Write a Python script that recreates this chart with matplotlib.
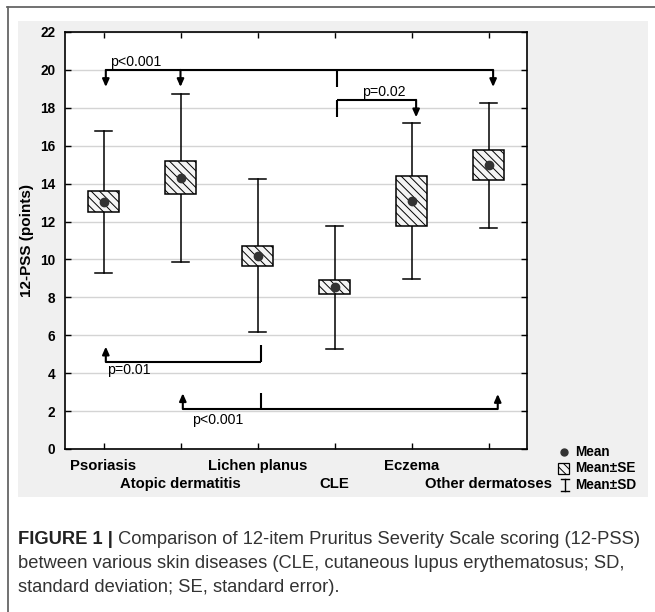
import matplotlib
matplotlib.use('Agg')
import matplotlib.pyplot as plt
from matplotlib.patches import Rectangle
from matplotlib.lines import Line2D

# ---------------- data ----------------
categories = ['Psoriasis', 'Atopic dermatitis', 'Lichen planus', 'CLE', 'Eczema', 'Other dermatoses']
mean = [13.05, 14.31, 10.19, 8.53, 13.08, 14.98]
se = [0.55, 0.86, 0.53, 0.36, 1.33, 0.79]
sd = [3.75, 4.42, 4.03, 3.24, 4.13, 3.30]
yticks = [0, 2, 4, 6, 8, 10, 12, 14, 16, 18, 20, 22]
legend_labels = ['Mean', 'Mean\u00b1SE', 'Mean\u00b1SD']
caption_bold = 'FIGURE 1 |'
caption_lines = [' Comparison of 12-item Pruritus Severity Scale scoring (12-PSS)',
                 'between various skin diseases (CLE, cutaneous lupus erythematosus; SD,',
                 'standard deviation; SE, standard error).']

W, H = 655, 612
DPI = 100
plt.rcParams['font.family'] = ['Liberation Sans', 'DejaVu Sans']
plt.rcParams['hatch.linewidth'] = 0.7

fig = plt.figure(figsize=(W / DPI, H / DPI), dpi=DPI, facecolor='white')

def fx(x):
    return x / W

def fy(y):
    return 1 - y / H

# outer frame lines
fig.add_artist(Line2D([fx(7), fx(655)], [fy(7), fy(7)], color='#666666', lw=1.3))
fig.add_artist(Line2D([fx(8), fx(8)], [fy(7), fy(612)], color='#666666', lw=1.3))
# gray panel
fig.add_artist(Rectangle((fx(18), fy(497)), fx(648) - fx(18), fy(21) - fy(497),
                         facecolor='#f0f0f0', edgecolor='none', zorder=0))

ax = fig.add_axes([fx(65), fy(449), fx(527) - fx(65), fy(32) - fy(449)])
ax.set_facecolor('white')
ax.set_xlim(-0.5, 5.5)
ax.set_ylim(0, 22)
ax.set_yticks(yticks)
ax.set_yticklabels([str(t) for t in yticks], fontsize=9.8, fontweight='bold')
ax.set_xticks(range(len(categories)))
ax.set_xticklabels([])
ax.yaxis.grid(True, color='#d4d4d4', lw=1.0)
ax.set_axisbelow(True)
ax.tick_params(axis='y', left=True, right=True, direction='in', length=4, width=1.0, pad=7)
ax.tick_params(axis='x', top=True, bottom=True, direction='in', length=4, width=1.0)
for s in ax.spines.values():
    s.set_linewidth(1.2)
    s.set_color('black')

ax.set_ylabel('12-PSS (points)', fontsize=11, fontweight='bold')
ax.yaxis.set_label_coords((34 - 65) / 462, 0.5)

box_w = 0.40
cap_w = 0.21
for i, (m, e, d) in enumerate(zip(mean, se, sd)):
    # whiskers (SD)
    ax.plot([i, i], [m - d, m - e], color='black', lw=1.1, zorder=2)
    ax.plot([i, i], [m + e, m + d], color='black', lw=1.1, zorder=2)
    ax.plot([i - cap_w / 2, i + cap_w / 2], [m - d, m - d], color='black', lw=1.1, zorder=2)
    ax.plot([i - cap_w / 2, i + cap_w / 2], [m + d, m + d], color='black', lw=1.1, zorder=2)
    # SE box
    ax.add_patch(Rectangle((i - box_w / 2, m - e), box_w, 2 * e, facecolor='#f4f4f4',
                           edgecolor='black', lw=1.1, hatch='\\\\\\\\', zorder=3))
    ax.plot([i], [m], 'o', color='#333333', markersize=6, zorder=4)

# x labels, staggered rows
for i, c in enumerate(categories):
    yy = -17 / 417 if i % 2 == 0 else -35 / 417
    ax.text(i, yy, c, transform=ax.get_xaxis_transform(), ha='center', va='center',
            fontsize=10.7, fontweight='bold', clip_on=False)

# ---------------- significance brackets ----------------
LW = 1.5

def hline(x0, x1, y):
    ax.plot([x0, x1], [y, y], color='black', lw=LW, solid_capstyle='butt', zorder=5)

def stub(x, y0, y1):
    ax.plot([x, x], [y0, y1], color='black', lw=LW, solid_capstyle='butt', zorder=5)

def arrow(x, y0, y1):
    ax.annotate('', xy=(x, y1), xytext=(x, y0),
                arrowprops=dict(arrowstyle='-|>,head_length=0.45,head_width=0.2',
                                lw=LW, color='black', shrinkA=0, shrinkB=0), zorder=5)

# top p<0.001
hline(0.03, 5.06, 20.0)
for xa in [0.03, 1.0, 5.06]:
    arrow(xa, 20.0, 19.1)
stub(3.03, 20.0, 19.1)
ax.text(0.08, 20.42, 'p<0.001', fontsize=10.2, ha='left', va='center')

# p=0.02
hline(3.03, 4.06, 18.42)
stub(3.03, 18.42, 17.54)
arrow(4.06, 18.42, 17.5)
ax.text(3.64, 18.84, 'p=0.02', fontsize=10.2, ha='center', va='center')

# p=0.01
hline(0.03, 2.05, 4.59)
arrow(0.03, 4.59, 5.4)
stub(2.05, 4.59, 5.47)
ax.text(0.05, 4.17, 'p=0.01', fontsize=10.2, ha='left', va='center')

# bottom p<0.001
hline(1.03, 5.12, 2.11)
arrow(1.03, 2.11, 2.94)
stub(2.05, 2.11, 2.97)
arrow(5.12, 2.11, 2.9)
ax.text(1.15, 1.53, 'p<0.001', fontsize=10.2, ha='left', va='center')

# ---------------- legend ----------------
leg_y = [452, 468, 485]
fig.add_artist(Line2D([fx(564)], [fy(leg_y[0])], marker='o', color='#333333', markersize=5, lw=0))
fig.add_artist(Rectangle((fx(558), fy(474)), fx(569) - fx(558), fy(463) - fy(474),
                         facecolor='#f4f4f4', edgecolor='black', lw=0.9, hatch='\\\\\\\\'))
fig.add_artist(Line2D([fx(565), fx(565)], [fy(479), fy(491)], color='black', lw=1.0))
fig.add_artist(Line2D([fx(561), fx(569)], [fy(479), fy(479)], color='black', lw=1.0))
fig.add_artist(Line2D([fx(561), fx(569)], [fy(491), fy(491)], color='black', lw=1.0))
for lab, yy in zip(legend_labels, leg_y):
    fig.text(fx(575), fy(yy), lab, fontsize=9.8, fontweight='bold', ha='left', va='center')

# ---------------- caption (fit first line to target width) ----------------
cap_y = [540, 563, 587]
fig.canvas.draw()
r = fig.canvas.get_renderer()
fs0 = 12.0
t1 = fig.text(0, 0, caption_bold, fontsize=fs0, fontweight='bold')
t2 = fig.text(0, 0, caption_lines[0], fontsize=fs0)
wtot = t1.get_window_extent(renderer=r).width + t2.get_window_extent(renderer=r).width
t1.remove()
t2.remove()
fs = fs0 * 624.0 / wtot

tb = fig.text(fx(18), fy(cap_y[0]), caption_bold, fontsize=fs, fontweight='bold',
              ha='left', va='center', color='#222222')
bw = tb.get_window_extent(renderer=r).width
fig.text(fx(18 + bw), fy(cap_y[0]), caption_lines[0], fontsize=fs, ha='left', va='center', color='#333333')
for line, yy in zip(caption_lines[1:], cap_y[1:]):
    fig.text(fx(18), fy(yy), line, fontsize=fs, ha='left', va='center', color='#333333')

fig.savefig('out.png', dpi=DPI, facecolor='white')
